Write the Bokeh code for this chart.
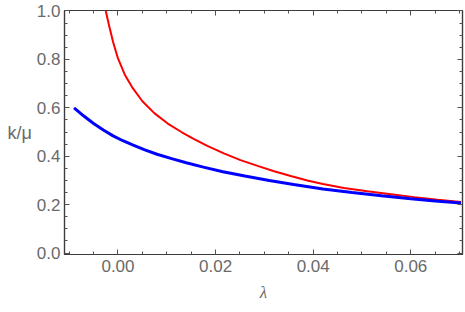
from bokeh.plotting import figure
from bokeh.models import Range1d, LinearAxis, FixedTicker, PrintfTickFormatter
from bokeh.embed import file_html
from bokeh.resources import INLINE

# data
blue_x = [-0.0090, -0.0070, -0.0050, -0.0030, -0.0010, 0.0010, 0.0030, 0.0055,
          0.0080, 0.0110, 0.0140, 0.0175, 0.0215, 0.0260, 0.0310, 0.0360,
          0.0420, 0.0480, 0.0540, 0.0600, 0.0650, 0.0703]
blue_y = [0.600, 0.566, 0.535, 0.508, 0.484, 0.464, 0.447, 0.426,
          0.408, 0.390, 0.373, 0.355, 0.336, 0.318, 0.300, 0.283,
          0.265, 0.250, 0.2365, 0.2245, 0.2155, 0.207]

red_x = [-0.0025, -0.0018, -0.0010, 0.0000, 0.0014, 0.0030, 0.0050, 0.0075,
         0.0102, 0.0130, 0.0155, 0.0183, 0.0217, 0.0251, 0.0286, 0.0320,
         0.0354, 0.0388, 0.0420, 0.0463, 0.0511, 0.0559, 0.0607, 0.0655,
         0.0703]
red_y = [1.000, 0.938, 0.872, 0.804, 0.737, 0.682, 0.627, 0.577,
         0.535, 0.500, 0.472, 0.443, 0.412, 0.384, 0.360, 0.338,
         0.318, 0.300, 0.285, 0.269, 0.255, 0.243, 0.231, 0.220,
         0.211]

x_major = [0.0, 0.02, 0.04, 0.06]
x_minor = [-0.01, -0.005, 0.005, 0.01, 0.015, 0.025, 0.03, 0.035, 0.045,
           0.05, 0.055, 0.065, 0.07]
y_major = [0.0, 0.2, 0.4, 0.6, 0.8, 1.0]
y_minor = [0.05, 0.1, 0.15, 0.25, 0.3, 0.35, 0.45, 0.5, 0.55, 0.65, 0.7,
           0.75, 0.85, 0.9, 0.95]

x_label = "λ"
y_label = "k/μ"

AXIS = "#3c3c3c"
TICK = "#505050"
LAB = "#6a6a6a"
FONT = "Liberation Sans"

p = figure(width=465, height=312, output_backend="svg", toolbar_location=None,
           x_range=Range1d(-0.01096, 0.0706), y_range=Range1d(-0.006, 1.002),
           x_axis_location=None, y_axis_location=None,
           min_border_left=64, min_border_right=3, min_border_top=10,
           min_border_bottom=58)
p.grid.visible = False
p.outline_line_color = AXIS
p.outline_line_width = 1.2
p.background_fill_color = "white"
p.border_fill_color = "white"

xt = FixedTicker(ticks=x_major, minor_ticks=x_minor)
yt = FixedTicker(ticks=y_major, minor_ticks=y_minor)


def style(ax, show):
    ax.axis_line_color = AXIS
    ax.axis_line_width = 1.2
    ax.major_tick_line_color = TICK
    ax.minor_tick_line_color = TICK
    ax.major_tick_in = 5
    ax.major_tick_out = 0
    ax.minor_tick_in = 3
    ax.minor_tick_out = 0
    if show:
        ax.major_label_text_font = FONT
        ax.major_label_text_font_size = "17px"
        ax.major_label_text_color = LAB
        ax.axis_label_text_color = LAB
        ax.axis_label_text_font_style = "normal"
    else:
        ax.major_label_text_font_size = "1px"
        ax.major_label_standoff = 0
        ax.major_label_text_alpha = 0


bx = LinearAxis(ticker=xt, formatter=PrintfTickFormatter(format="%.2f"),
                axis_label=x_label)
style(bx, True)
bx.major_label_standoff = 5
bx.axis_label_standoff = 8
bx.axis_label_text_font = "Liberation Serif"
bx.axis_label_text_font_style = "italic"
bx.axis_label_text_font_size = "17px"
p.add_layout(bx, "below")

ly = LinearAxis(ticker=yt, formatter=PrintfTickFormatter(format="%.1f"),
                axis_label=y_label, axis_label_orientation="horizontal")
style(ly, True)
ly.major_label_standoff = 4
ly.axis_label_standoff = 2
ly.axis_label_text_font = FONT
ly.axis_label_text_font_size = "18px"
p.add_layout(ly, "left")

tx = LinearAxis(ticker=xt, formatter=PrintfTickFormatter(format="%.2f"))
style(tx, False)
p.add_layout(tx, "above")

ry = LinearAxis(ticker=yt, formatter=PrintfTickFormatter(format="%.1f"))
style(ry, False)
p.add_layout(ry, "right")

p.line(red_x, red_y, line_color="#ff0000", line_width=2)
p.line(blue_x, blue_y, line_color="#0000ff", line_width=3)

open("out.html", "w").write(file_html(p, INLINE))
